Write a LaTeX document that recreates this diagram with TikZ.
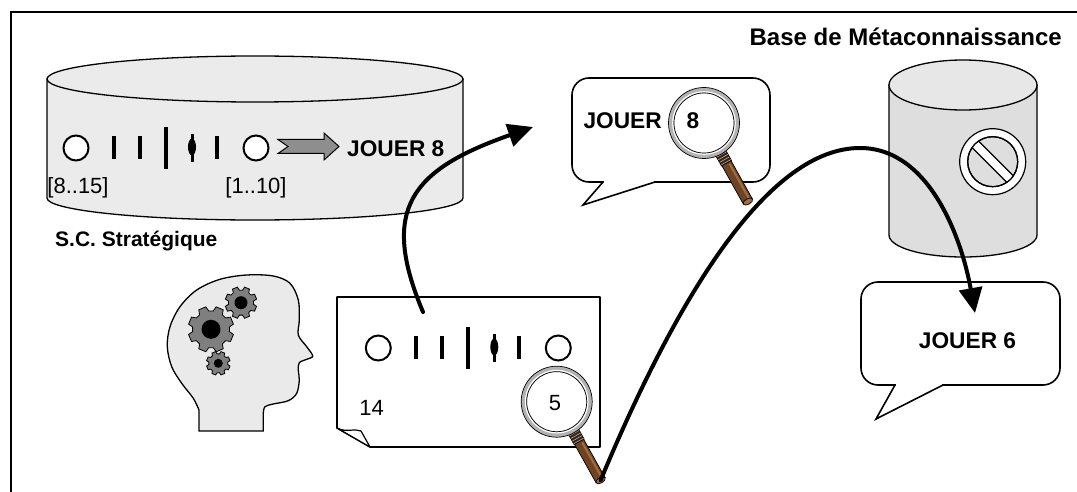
\documentclass[tikz,border=0pt]{standalone}
\usepackage{fontspec}
\setmainfont{Liberation Sans}
\usetikzlibrary{arrows.meta}

\definecolor{cylA}{HTML}{EBEBEB}
\definecolor{cylB}{HTML}{DEDEDE}
\definecolor{cylBtop}{HTML}{E7E7E7}
\definecolor{headfill}{HTML}{EAEAEA}
\definecolor{gearfill}{HTML}{7F7F7F}
\definecolor{arrowgray}{HTML}{8E8E8E}
\definecolor{woodmid}{HTML}{6E4422}
\definecolor{wooddark}{HTML}{3A2210}
\definecolor{woodlight}{HTML}{A06E40}
\definecolor{ringgray}{HTML}{B2B2B2}

\newcommand\sz[1]{\fontsize{#1}{#1}\selectfont}

% speech bubble: left, top, right, bottom, tail base 1, tail base 2, tip x, tip y
\newcommand\talkbubble[8]{%
  \draw[outline,fill=white,rounded corners=17] (#1,#2) rectangle (#3,#4);
  \fill[white] (#5+1.2,#4-2.5) -- (#5+1.2,#4) -- (#7,#8) -- (#6-1.2,#4) -- (#6-1.2,#4-2.5) -- cycle;
  \draw[outline,line join=miter] (#5,#4) -- (#7,#8) -- (#6,#4);
}

\tikzset{
  outline/.style={draw=black,line width=1.6},
  flow/.style={line width=4,line cap=round,-{Triangle[length=25pt,width=23pt]}},
  numtext/.style={inner sep=0,anchor=base,font=\sz{22}},
  boldtext/.style={inner sep=0,anchor=base,font=\sz{22.7}\bfseries},
  titletext/.style={inner sep=0,font=\sz{21}\bfseries},
  % a row of markers: circle, ticks, long tick, bead, tick, circle
  pics/gauge/.style={code={
    \draw[line width=2,fill=white] (0,0) circle (12.5);
    \draw[line width=3.8] (38,-12) -- (38,11) (64,-12) -- (64,11)
                          (90,-21) -- (90,21) (141,-12) -- (141,11);
    \draw[line width=3] (116,-14) -- (116,14);
    \fill (116,-1) ellipse [x radius=4, y radius=8.5];
    \draw[line width=2,fill=white] (180,0) circle (12.5);
  }},
  % toothed wheel: outer radius, root radius, hole radius
  pics/gear/.style n args={3}{code={
    \filldraw[fill=gearfill,draw=black,line width=0.8]
      (0:#2) \foreach \a in {0,45,...,315} {
        -- (\a+7:#2) -- (\a+13:#1) -- (\a+32:#1) -- (\a+38:#2) } -- cycle;
    \fill (0,0) circle (#3);
  }},
  % magnifying glass with wooden handle
  pics/loupe/.style={code={
    \begin{scope}[rotate=-60.8]
      \draw[line width=0.7,fill=woodmid] (34,-5.2) rectangle (90,5.2);
      \fill[woodlight] (48,-3.4) rectangle (89,-1.4);
      \draw[line width=0.7,fill=wooddark] (33,-5.7) rectangle (46,5.7);
      \foreach \k in {36,39,42,45} \draw[gray!60,line width=0.6] (\k,-5.7) -- (\k,5.7);
      \draw[line width=0.7,fill=woodlight] (90,0) ellipse [x radius=2.8, y radius=5.2];
      \coordinate (-tip) at (90,0);
    \end{scope}
    \draw[line width=5.5,ringgray] (0,0) circle (32.8);
    \draw[line width=1.2,white] (0,0) circle (31.2);
    \draw[line width=0.7] (0,0) circle (35.5);
    \draw[line width=0.7] (0,0) circle (30);
  }},
}

\begin{document}
\begin{tikzpicture}[x=1pt,y=-1pt]
\useasboundingbox (0,0) rectangle (1077,492);

% outer frame
\draw[line width=2.2] (11,500) -- (11,12) -- (1085,12);

% strategic knowledge store (wide cylinder)
\filldraw[fill=cylA,line width=1.3] (47,79) -- (47,198)
  .. controls (47,210.2) and (140.1,220) .. (255,220)
  .. controls (369.9,220) and (463,210.2) .. (463,198) -- (463,79) -- cycle;
\filldraw[fill=cylA,line width=1.3] (255,79) ellipse [x radius=208, y radius=23];
\pic at (76,148) {gauge};
\draw[line width=1,fill=arrowgray] (278,139.5) -- (324,139.5) -- (324,133) -- (339,146.5)
  -- (324,160) -- (324,153.5) -- (278,153.5) -- (288,146.5) -- cycle;
\node[boldtext,anchor=base west] (cylPlay) at (347,156.5) {JOUER 8};
\node[numtext] (rangeA) at (78,193.3) {[8..15]};
\node[numtext] (rangeB) at (256,193.3) {[1..10]};
\node[titletext,anchor=base west] (stratTitle) at (55,247) {S.C. Stratégique};

% meta-knowledge store (tall cylinder)
\filldraw[fill=cylB,line width=1.3] (889,85) -- (889,235)
  .. controls (889,247.2) and (922.1,257) .. (963,257)
  .. controls (1003.9,257) and (1037,247.2) .. (1037,235) -- (1037,85) -- cycle;
\filldraw[fill=cylBtop,line width=1.3] (963,85) ellipse [x radius=74, y radius=25];
\filldraw[fill=white,line width=1.2] (992.7,161.7) circle (33);
\filldraw[fill=cylB,line width=1.2] (992.7,161.7) circle (25);
\begin{scope}
  \clip (992.7,161.7) circle (25);
  \filldraw[fill=white,line width=1.2,shift={(992.7,161.7)},rotate=-45] (-30,-4.6) rectangle (30,4.6);
\end{scope}
\draw[line width=1.2] (992.7,161.7) circle (25);
\node[titletext,anchor=base east] (metaTitle) at (1062,46) {\sz{24}Base de Métaconnaissance};

% speech bubbles
\talkbubble{572}{78}{770}{182}{603}{655}{583}{205}
\node[boldtext,anchor=base west] (playA) at (583.3,128.3) {JOUER};
\node[boldtext] (playAnum) at (693,128.3) {8};
\talkbubble{861}{282}{1060}{385}{895}{943}{876}{419}
\node[boldtext] (playB) at (967.5,348.3) {JOUER 6};

% head with gears
\draw[line width=1.3,fill=headfill] (199,431) -- plot[smooth,tension=0.55] coordinates {
  (199,410) (193.3,398.3) (181.7,383.3) (171.7,366.7) (167.3,346.7) (170,326.7)
  (180,306.7) (196.7,290) (220,279.3) (246.7,275) (273.3,276) (290,283.3)
  (298.3,300) (299.3,320) (298.3,335) (306.7,346.7) (312.7,356) (306.7,359.3)
  (299.3,362.7) (298.3,370) (299.3,380) (296.7,393.3) (288.3,400.7) (273.3,404)
  (265,406.7) (263.3,413.3)} -- (263.3,431) -- cycle;
\pic at (211,329.3) {gear={23}{18.5}{9.5}};
\pic at (241,302.7) {gear={16}{12.5}{6.5}};
\pic at (218.3,363.3) {gear={12}{9.5}{4.5}};

% note sheet with curled corner
\draw[outline,fill=white,line join=round] (337,428) -- (337,297) -- (600,297) -- (600,447) -- (370,447) -- cycle;
\draw[line width=1.2,fill=white,line join=round] (337,428) .. controls (347,433) and (354,428) .. (361,431) -- (370,447) -- cycle;
\pic at (378.3,348) {gauge};
\node[numtext] (noteNum) at (371.7,415) {14};
\node[numtext] (lensNum) at (555,410) {5};

% magnifying glasses
\pic (lensA) at (556.7,401.7) {loupe};
\pic (lensB) at (704,123) {loupe};

% connectors
\coordinate (noteOut) at (423,312);
\coordinate (bubAIn) at (533,127);
\coordinate (arcTop) at (860,148);
\coordinate (bubBIn) at (975,313);
\draw[flow] (noteOut) .. controls (380,210) and (410,170) .. (bubAIn);
\draw[flow] (lensA-tip) .. controls (680,290) and (770,148) .. (arcTop)
  .. controls (930,148) and (962,240) .. (bubBIn);
\end{tikzpicture}
\end{document}
